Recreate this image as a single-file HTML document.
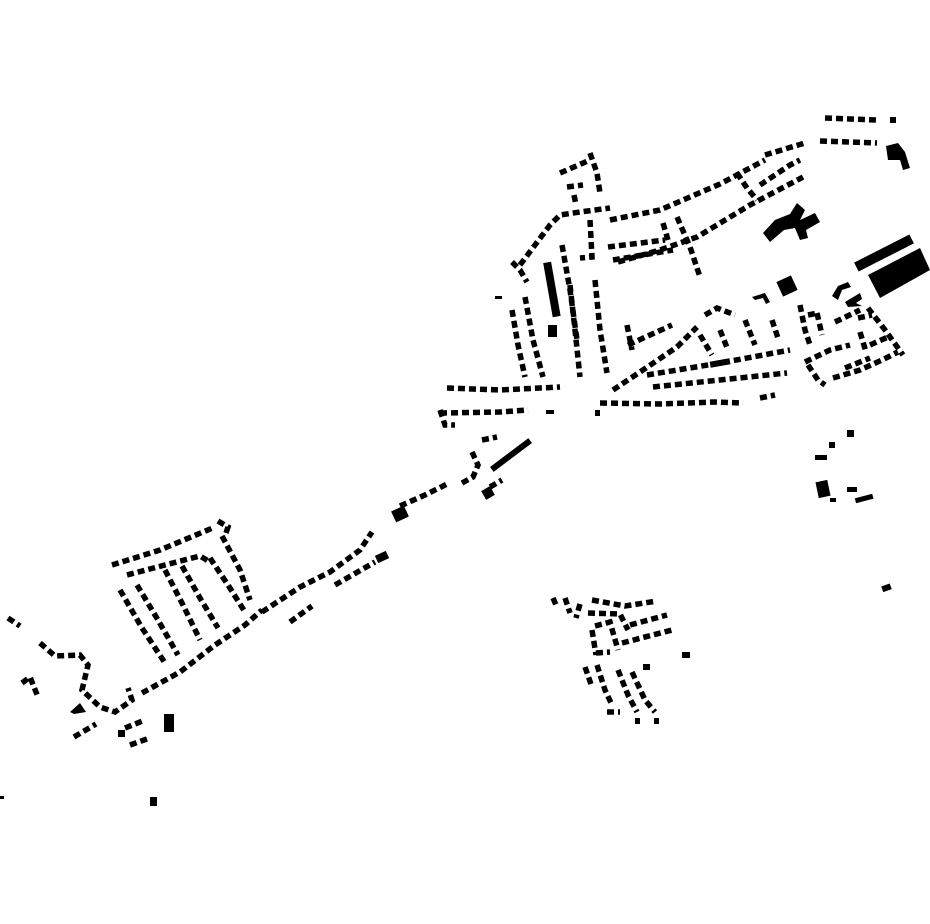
<!DOCTYPE html>
<html><head><meta charset="utf-8"><style>html,body{margin:0;padding:0;background:#fff}svg{display:block}</style></head>
<body>
<svg width="930" height="924" viewBox="0 0 930 924" xmlns="http://www.w3.org/2000/svg">
<g fill="none" stroke="#000" stroke-width="5.5" stroke-dasharray="7 4" stroke-linejoin="miter">
<polyline points="112,565 160,550 215,527"/>
<polyline points="218,521 228,527 226,533"/>
<polyline points="127,575 165,565 200,556 210,562"/>
<polyline points="120,590 142,628 165,663"/>
<polyline points="137,585 158,620 178,655"/>
<polyline points="165,570 183,605 200,640"/>
<polyline points="182,566 200,598 218,628"/>
<polyline points="210,558 228,585 245,612"/>
<polyline points="222,536 240,570 250,600"/>
<polyline points="142,693 180,672 215,645 245,625 262,610"/>
<polyline points="262,612 300,587 330,572 360,550 372,532"/>
<polyline points="400,506 425,495 447,484"/>
<polyline points="290,622 312,606"/>
<polyline points="335,585 375,562"/>
<polyline points="462,483 473,477 478,465 472,452"/>
<polyline points="482,440 497,437"/>
<polyline points="490,487 502,480"/>
<polyline points="8,618 20,626"/>
<polyline points="40,643 55,656 80,655 88,665 82,690 100,707 115,712 132,700 128,688"/>
<polyline points="22,683 30,677 38,697"/>
<polyline points="74,737 96,724"/>
<polyline points="125,728 145,720"/>
<polyline points="130,745 147,739"/>
<polyline points="825,118 877,120"/>
<polyline points="765,155 805,143"/>
<polyline points="820,141 877,143"/>
<polyline points="520,265 535,245 550,225 560,215 580,212 610,208"/>
<polyline points="610,220 660,210 720,184 765,160"/>
<polyline points="608,247 665,240"/>
<polyline points="613,260 673,250"/>
<polyline points="618,262 660,250 697,237 750,205 803,177"/>
<polyline points="737,173 747,188 757,200"/>
<polyline points="760,185 790,165 800,160"/>
<polyline points="677,217 690,247 700,277"/>
<polyline points="663,223 668,240"/>
<polyline points="590,220 592,257 580,258"/>
<polyline points="560,173 590,160"/>
<polyline points="590,153 597,173 600,193"/>
<polyline points="567,187 583,185"/>
<polyline points="574,195 576,205"/>
<polyline points="562,245 570,290 577,340"/>
<polyline points="570,285 575,330 580,377"/>
<polyline points="595,280 600,330 607,373"/>
<polyline points="525,297 533,340 543,377"/>
<polyline points="512,310 518,345 525,377"/>
<polyline points="512,262 520,270 527,282"/>
<polyline points="627,325 632,350"/>
<polyline points="628,345 650,335 672,325"/>
<polyline points="447,388 500,390 560,387"/>
<polyline points="440,413 500,412 528,410"/>
<polyline points="440,410 445,425 455,425"/>
<polyline points="613,390 640,372 677,347 697,327"/>
<polyline points="647,375 720,363 790,350"/>
<polyline points="653,387 720,380 787,373"/>
<polyline points="600,403 660,404 715,402 743,403"/>
<polyline points="705,315 717,308 735,315"/>
<polyline points="700,335 712,355"/>
<polyline points="720,330 728,350"/>
<polyline points="745,320 755,345"/>
<polyline points="772,320 778,338"/>
<polyline points="800,305 805,330 810,345"/>
<polyline points="817,313 822,335"/>
<polyline points="808,315 818,313"/>
<polyline points="835,322 860,310"/>
<polyline points="868,308 885,330 903,355"/>
<polyline points="860,332 866,352"/>
<polyline points="870,345 888,337"/>
<polyline points="805,362 830,350 850,345"/>
<polyline points="808,365 818,380 825,385"/>
<polyline points="833,378 860,370 882,360 898,352"/>
<polyline points="845,368 870,358"/>
<polyline points="858,318 872,315"/>
<polyline points="760,398 775,395"/>
<polyline points="553,598 556,605"/>
<polyline points="565,598 570,613"/>
<polyline points="580,604 576,618"/>
<polyline points="592,600 625,606 657,601"/>
<polyline points="588,613 620,614 628,630"/>
<polyline points="630,625 667,615"/>
<polyline points="622,643 672,630"/>
<polyline points="592,630 596,655"/>
<polyline points="595,626 610,622 618,650"/>
<polyline points="596,653 610,652"/>
<polyline points="585,667 592,687"/>
<polyline points="597,665 605,690 612,705"/>
<polyline points="618,670 628,695 637,712"/>
<polyline points="632,672 645,700 655,712"/>
<polyline points="607,712 620,712"/>
</g>
<g fill="#000">
<rect x="393" y="508" width="14" height="12" transform="rotate(-25 400 514)"/>
<rect x="483" y="488" width="10" height="10" transform="rotate(-30 488 493)"/>
<rect x="487" y="452" width="48" height="6" transform="rotate(-37 511 455)"/>
<rect x="376" y="553" width="12" height="8" transform="rotate(-25 382 557)"/>
<rect x="164" y="714" width="10" height="18"/>
<polygon points="70,712 80,703 86,712 74,714"/>
<rect x="118" y="730" width="7" height="7"/>
<rect x="150" y="797" width="7" height="9"/>
<rect x="0" y="796" width="4" height="3"/>
<rect x="890" y="117" width="6" height="6"/>
<polygon points="886,146 898,143 905,152 910,168 903,170 900,160 888,160"/>
<rect x="548" y="262" width="8" height="55" transform="rotate(-10 552 290)"/>
<rect x="548" y="325" width="9" height="12"/>
<rect x="853" y="248" width="62" height="10" transform="rotate(-27 884 253)"/>
<polygon points="868,275 920,248 930,270 880,298"/>
<rect x="779" y="278" width="16" height="16" transform="rotate(-25 787 286)"/>
<polygon points="763,233 775,220 790,214 797,203 805,210 800,220 815,213 820,222 806,230 808,238 800,240 795,228 784,230 770,242"/>
<polygon points="752,297 765,293 770,302 766,304 763,298 755,300"/>
<polygon points="832,296 838,286 848,282 851,287 842,290 838,300"/>
<polygon points="845,302 860,293 862,299 856,303 862,306 848,307"/>
<rect x="847" y="430" width="7" height="7"/>
<rect x="829" y="442" width="6" height="6"/>
<rect x="815" y="455" width="12" height="5"/>
<rect x="817" y="481" width="12" height="16" transform="rotate(-12 823 489)"/>
<rect x="830" y="498" width="6" height="4"/>
<rect x="847" y="487" width="10" height="5"/>
<rect x="855" y="496" width="18" height="5" transform="rotate(-15 864 498)"/>
<rect x="882" y="585" width="9" height="6" transform="rotate(-20 886 588)"/>
<rect x="682" y="652" width="8" height="6"/>
<rect x="643" y="664" width="7" height="6"/>
<rect x="635" y="718" width="5" height="6"/>
<rect x="654" y="718" width="5" height="6"/>
<rect x="495" y="296" width="7" height="3"/>
<rect x="595" y="410" width="5" height="6"/>
<rect x="546" y="410" width="8" height="4"/>
<rect x="710" y="360" width="20" height="6" transform="rotate(-10 720 363)"/>
</g>
</svg>
</body></html>
